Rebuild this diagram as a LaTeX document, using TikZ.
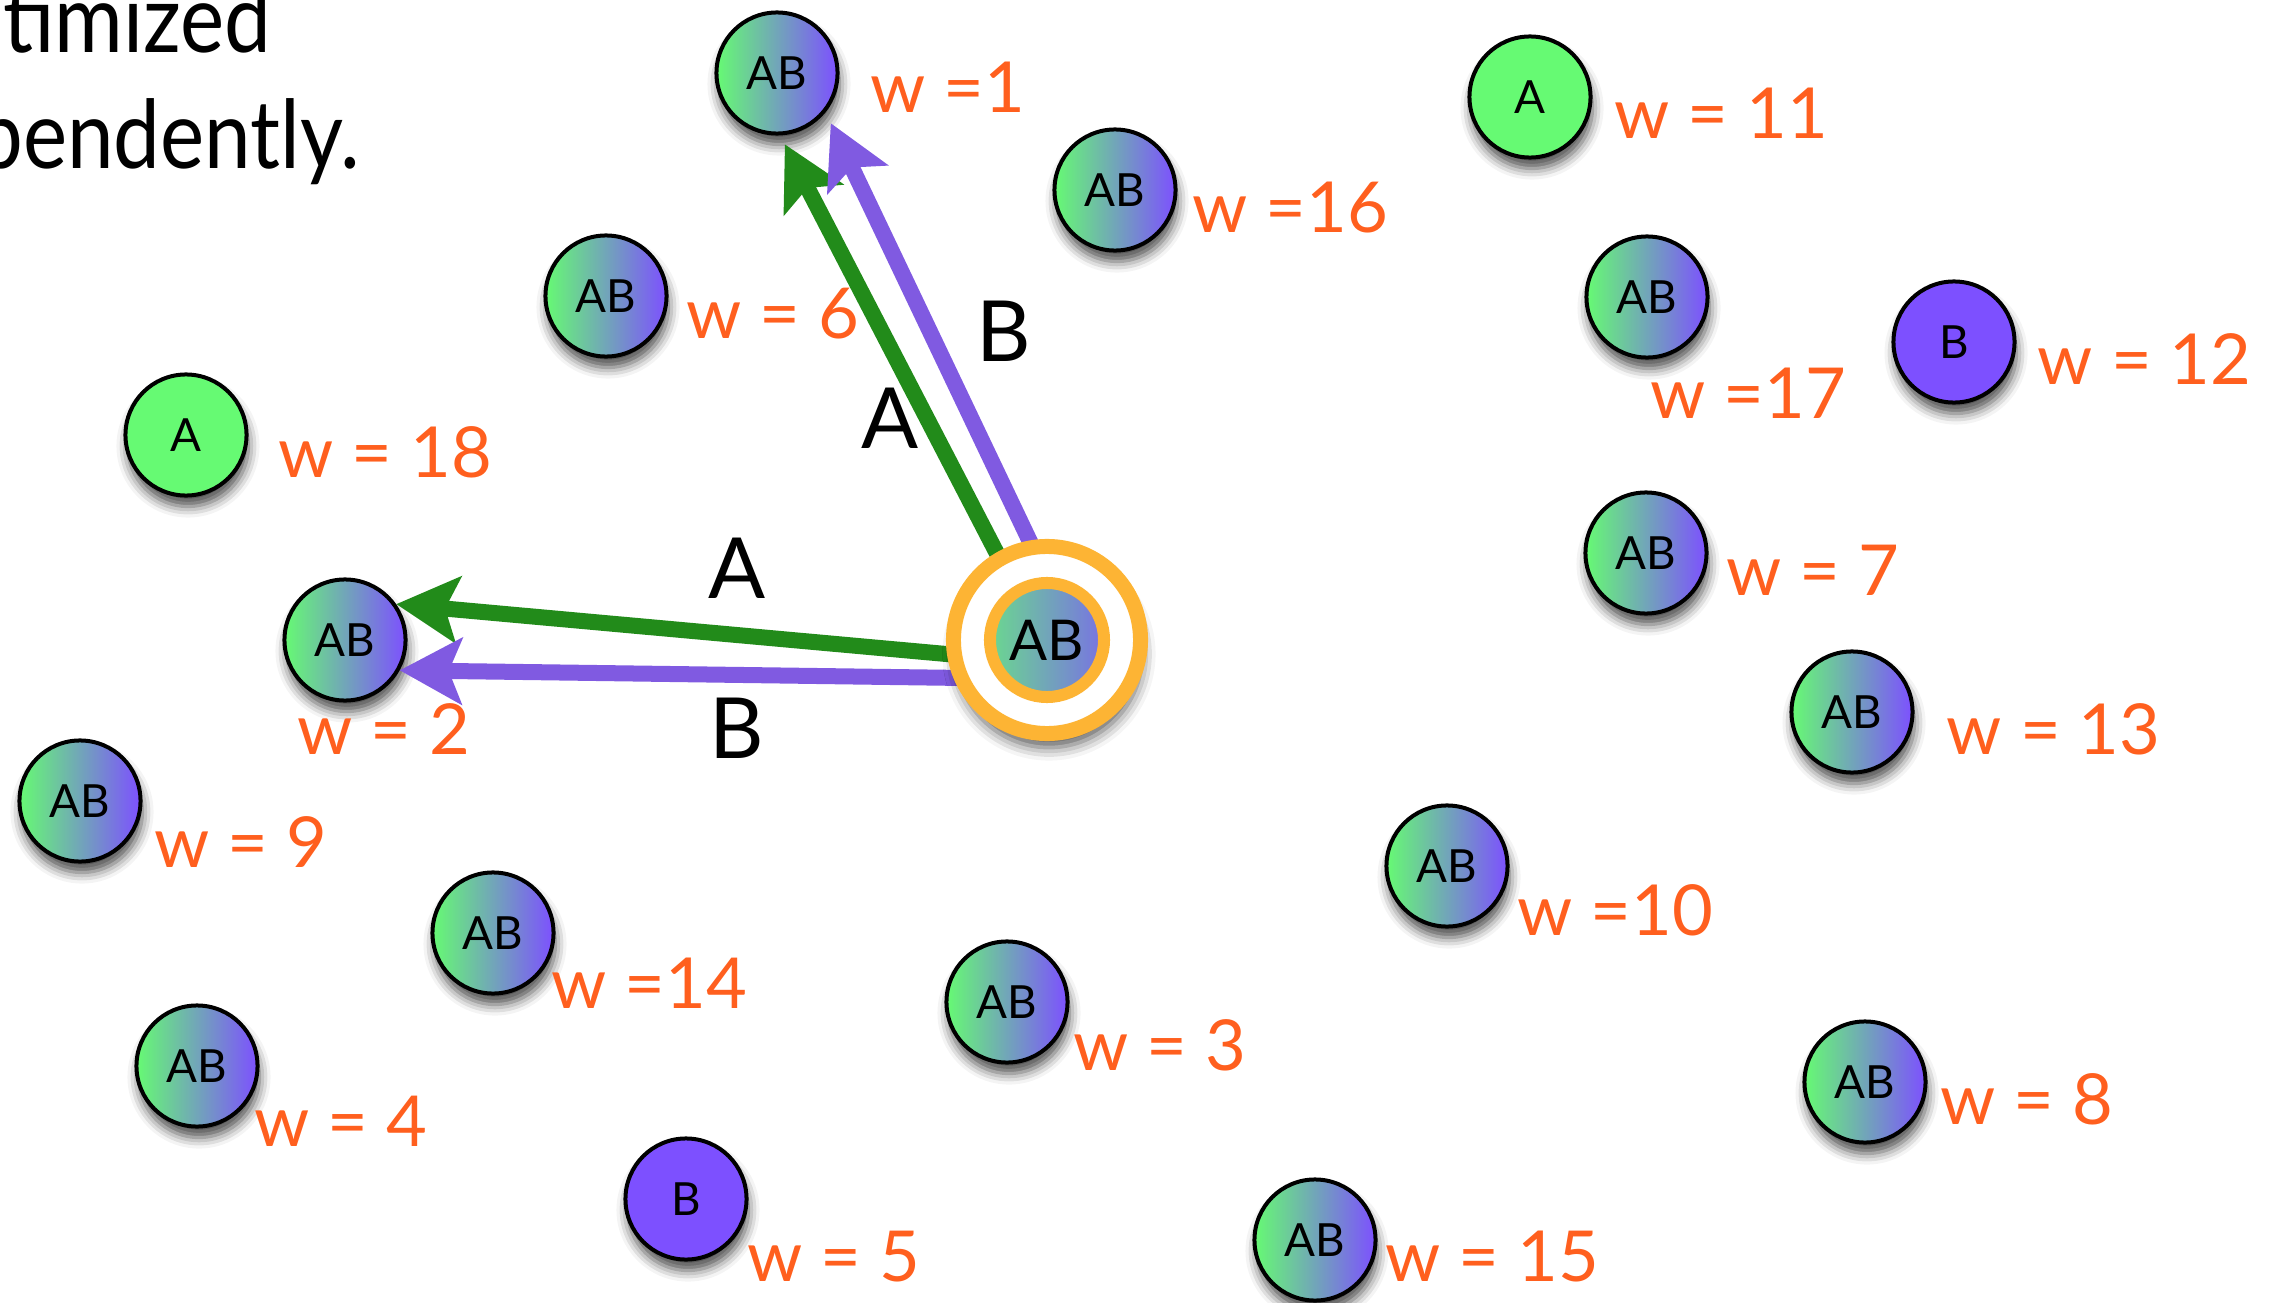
\documentclass[tikz,border=0pt]{standalone}
\usepackage{fontspec}
\setmainfont{Lato}
\usetikzlibrary{arrows.meta,shadows.blur}
\definecolor{ngreen}{RGB}{102,250,115}
\definecolor{npurple}{RGB}{125,80,255}
\definecolor{lorange}{RGB}{255,95,30}
\definecolor{agreen}{RGB}{34,139,26}
\definecolor{apurple}{RGB}{128,90,225}
\definecolor{ringc}{RGB}{253,180,52}
\pgfdeclarelayer{front}
\pgfsetlayers{main,front}
\tikzset{
 nd/.style={circle, draw=black, line width=0.04cm, minimum size=1.21cm, inner sep=0pt,
   font=\fontsize{13}{15}\selectfont,
   blur shadow={shadow xshift=0.02cm, shadow yshift=-0.11cm, shadow blur radius=0.11cm, shadow opacity=70}},
 abn/.style={nd, left color=ngreen, right color=npurple},
 an/.style={nd, fill=ngreen},
 bn/.style={nd, fill=npurple},
 wl/.style={anchor=base west, text=lorange, font=\fontsize{20}{24}\selectfont, inner sep=0pt},
 al/.style={font=\fontsize{24}{28}\selectfont, inner sep=0pt},
 hd/.style={anchor=base east, inner sep=0pt, xscale=0.88, font=\fontsize{27}{32}\selectfont},
 conn/.style={line width=0.16cm, -{Stealth[length=0.62cm, width=0.66cm, inset=0.13cm]}},
 ga/.style={conn, draw=agreen, fill=agreen},
 pa/.style={conn, draw=apurple, fill=apurple},
}
\begin{document}
\begin{tikzpicture}[x=0.01cm,y=-0.01cm]
\clip (0,0) rectangle (2274,1303);
% heading fragments
\node[hd] (t1) at (272,53) {timized};
\node[hd] (t2) at (361,168) {pendently.};
% nodes
\node[abn] (n1) at (777,73) {AB};
\node[an] (n11) at (1530,97) {A};
\node[abn] (n16) at (1115,190) {AB};
\node[abn] (n6) at (606,296) {AB};
\node[abn] (n17) at (1647,297) {AB};
\node[bn] (n12) at (1954,342) {B};
\node[an] (n18) at (186,435) {A};
\node[abn] (n7) at (1646,553) {AB};
\node[abn] (n2) at (345,640) {AB};
\node[abn] (n13) at (1852,712) {AB};
\node[abn] (n9) at (80,801) {AB};
\node[abn] (n10) at (1447,866) {AB};
\node[abn] (n14) at (493,933) {AB};
\node[abn] (n3) at (1007,1002) {AB};
\node[abn] (n4) at (197,1066) {AB};
\node[abn] (n8) at (1865,1082) {AB};
\node[bn] (n5) at (686,1199) {B};
\node[abn] (n15) at (1315,1240) {AB};
% weights
\node[wl] (w1) at (870,113) {w =1};
\node[wl] (w11) at (1614,138) {w = 11};
\node[wl] (w16) at (1192,232) {w =16};
\node[wl] (w6) at (686,338) {w = 6};
\node[wl] (w17) at (1650,418) {w =17};
\node[wl] (w12) at (2037,384) {w = 12};
\node[wl] (w18) at (278,477) {w = 18};
\node[wl] (w7) at (1726,595) {w = 7};
\node[wl] (w2) at (297,754) {w = 2};
\node[wl] (w13) at (1946,754) {w = 13};
\node[wl] (w9) at (154,867) {w = 9};
\node[wl] (w10) at (1517,935) {w =10};
\node[wl] (w14) at (551,1008) {w =14};
\node[wl] (w3) at (1073,1070) {w = 3};
\node[wl] (w4) at (254,1146) {w = 4};
\node[wl] (w8) at (1940,1124) {w = 8};
\node[wl] (w5) at (747,1281) {w = 5};
\node[wl] (w15) at (1385,1281) {w = 15};
% central node
\begin{pgfonlayer}{front}
\node[circle, fill=white, draw=ringc, line width=0.15cm, minimum size=1.87cm, inner sep=0pt,
  blur shadow={shadow xshift=0.02cm, shadow yshift=-0.14cm, shadow blur radius=0.13cm, shadow opacity=65}] (c) at (1047,640) {};
\node[circle, left color=ngreen!80!npurple, right color=ngreen!20!npurple, draw=ringc, line width=0.12cm,
  minimum size=1.14cm, inner sep=0pt, font=\fontsize{16}{18}\selectfont] (ci) at (c) {AB};
\end{pgfonlayer}
% connectors
\draw[ga, shorten <=-0.12cm] (c.188) -- (n2.35);
\draw[pa, shorten <=-0.12cm] (c.202) -- (n2.331);
\draw[ga, shorten <=-0.12cm, shorten >=0.1cm] (c.120) -- (n1.273);
\draw[pa, shorten <=-0.12cm, shorten >=0.12cm] (c.100) -- (n1.321);
% connector labels
\node[al] (la1) at (890,418) {A};
\node[al] (lb1) at (1004,331) {B};
\node[al] (la2) at (737,568) {A};
\node[al] (lb2) at (737,728) {B};
\end{tikzpicture}
\end{document}
